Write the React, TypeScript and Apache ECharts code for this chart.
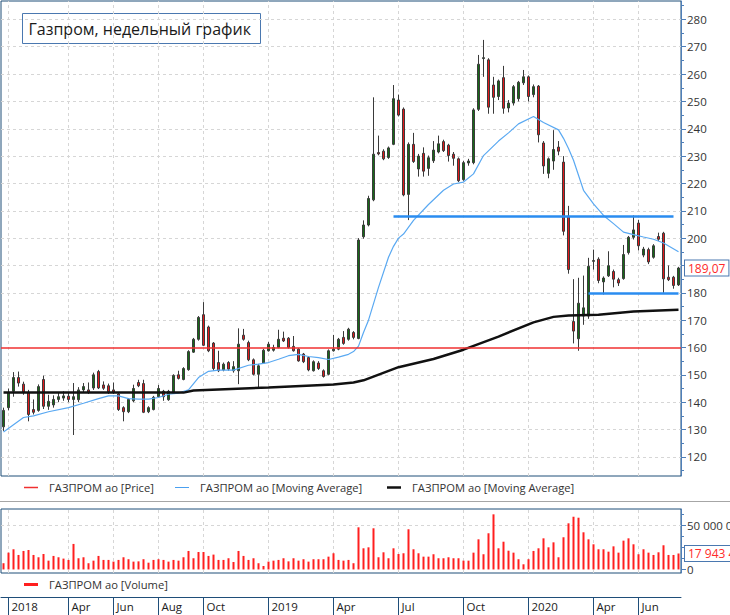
import React, { useEffect, useRef } from "react";
import * as echarts from "echarts";

// ---- categories: weekly bars ----
const categories: string[] = Array.from({ length: 136 }, (_, i) =>
  new Date(Date.UTC(2018, 0, 1) + i * 7 * 86400000).toISOString().slice(0, 10)
);

const monthTickIndex = [1, 13, 22, 31, 40, 53, 66, 79, 92, 105, 118, 127];
const monthTickLabel = ["2018", "Apr", "Jun", "Aug", "Oct", "2019", "Apr", "Jul", "Oct", "2020", "Apr", "Jun"];

const priceTicks = [120, 130, 140, 150, 160, 170, 180, 190, 200, 210, 220, 230, 240, 250, 260, 270, 280];
// 190 is hidden behind the last-price box in the reference
const priceLabelTicks = [120, 130, 140, 150, 160, 170, 180, 200, 210, 220, 230, 240, 250, 260, 270, 280];
const priceMinorTicks = [115, 125, 135, 145, 155, 165, 175, 185, 195, 205, 215, 225, 235, 245, 255, 265, 275, 285];
const priceGridLines = [120, 130, 140, 150, 170, 180, 190, 200, 210, 220, 230, 240, 250, 260, 270, 280];
const redLevel = 160;
const volumeTicks = [0, 50000000];
const volumeMinorTicks = [12500000, 25000000, 37500000, 62500000];

// ---- OHLC ----
const opens = [
  131.0, 138.0, 144.0, 149.0, 146.6, 143.5, 137.3, 137.0, 148.3, 138.5,
  139.0, 141.0, 141.5, 142.2, 141.0, 140.9, 144.5, 144.5, 145.2, 151.2,
  146.3, 146.0, 144.5, 143.0, 138.0, 136.5, 140.5, 147.2, 146.8, 136.5,
  137.3, 142.0, 144.0, 140.9, 143.3, 150.0, 148.3, 151.9, 158.3, 163.0,
  172.0, 167.5, 161.6, 154.5, 151.8, 154.5, 151.5, 151.5, 164.5, 161.8,
  155.5, 150.2, 154.3, 158.8, 159.0, 160.0, 163.4, 163.4, 160.4, 159.4,
  157.6, 156.3, 151.5, 154.3, 151.5, 150.2, 158.8, 159.4, 163.7, 163.0,
  165.5, 163.3, 200.5, 204.8, 214.0, 231.3, 231.8, 229.5, 234.3, 250.5,
  247.2, 216.0, 234.3, 225.3, 231.0, 225.5, 228.3, 231.5, 235.3, 234.0,
  230.7, 229.0, 221.4, 227.5, 227.6, 247.1, 265.7, 265.2, 256.0, 251.8,
  258.7, 247.6, 249.4, 251.0, 256.8, 259.0, 252.5, 255.6, 234.8, 223.7,
  228.2, 233.3, 227.8, 208.0, 169.5, 163.2, 171.5, 171.5, 191.5, 192.3,
  184.0, 186.2, 187.8, 184.8, 185.2, 194.7, 200.3, 205.5, 193.8, 195.8,
  193.0, 200.6, 201.8, 185.7, 185.7, 182.9
];
const closes = [
  137.0, 143.5, 149.0, 147.0, 143.6, 135.5, 136.3, 145.7, 138.5, 140.3,
  141.0, 142.0, 142.3, 141.0, 142.0, 144.5, 145.7, 143.6, 150.0, 145.2,
  145.1, 143.8, 143.5, 137.3, 136.5, 141.0, 145.0, 146.0, 136.3, 138.0,
  141.8, 145.0, 142.0, 144.0, 149.8, 148.7, 152.3, 158.5, 163.0, 171.0,
  160.8, 158.8, 152.3, 151.5, 153.9, 152.1, 153.0, 161.2, 163.0, 155.5,
  150.2, 153.3, 159.0, 161.2, 160.0, 163.0, 162.4, 160.0, 158.8, 155.1,
  154.8, 151.8, 154.8, 152.3, 149.4, 158.8, 159.4, 163.0, 161.5, 166.7,
  163.7, 199.3, 204.8, 214.5, 230.7, 230.8, 229.0, 233.0, 251.0, 245.0,
  215.8, 234.3, 228.0, 230.0, 224.5, 229.4, 232.2, 234.5, 232.0, 230.2,
  229.2, 221.0, 227.6, 228.2, 246.9, 263.6, 266.0, 247.9, 251.5, 257.5,
  247.5, 249.4, 255.4, 257.0, 259.0, 251.8, 255.4, 237.8, 226.4, 229.0,
  232.4, 231.8, 202.5, 188.5, 166.0, 176.2, 174.5, 189.7, 191.8, 184.5,
  185.4, 189.9, 185.0, 183.6, 194.0, 200.3, 203.0, 197.2, 196.0, 191.3,
  197.2, 199.6, 185.1, 184.8, 182.7, 189.07
];
const highs = [
  138.0, 145.0, 151.0, 151.2, 147.5, 144.5, 141.0, 146.5, 149.7, 142.7,
  142.5, 143.6, 144.0, 143.5, 147.0, 145.5, 147.0, 147.2, 150.8, 151.8,
  147.6, 146.8, 147.2, 143.6, 138.5, 141.5, 146.4, 148.2, 148.2, 138.5,
  142.3, 146.3, 144.5, 144.5, 150.2, 151.5, 152.8, 159.0, 163.5, 171.5,
  176.6, 168.0, 162.0, 158.8, 154.5, 155.0, 155.0, 167.0, 166.8, 162.5,
  156.0, 154.0, 159.5, 162.0, 161.0, 166.5, 165.8, 163.8, 164.2, 159.8,
  158.0, 156.8, 155.3, 155.0, 152.0, 159.3, 164.6, 163.5, 166.0, 167.2,
  166.0, 200.0, 206.5, 215.5, 251.5, 237.5, 232.5, 233.5, 256.0, 252.5,
  247.8, 235.0, 238.5, 230.8, 233.2, 230.2, 235.5, 237.5, 236.0, 234.5,
  231.5, 229.5, 228.3, 229.0, 247.5, 267.0, 272.5, 265.8, 259.0, 258.0,
  263.0, 250.5, 256.0, 257.5, 261.5, 259.5, 256.2, 256.0, 235.5, 229.5,
  239.5, 235.5, 230.0, 211.8, 185.0, 185.5, 186.3, 192.8, 195.8, 193.0,
  186.0, 195.2, 188.5, 185.5, 197.5, 200.8, 208.3, 206.7, 196.8, 196.5,
  197.8, 202.0, 202.3, 190.0, 186.2, 189.5
];
const lows = [
  129.5, 137.0, 142.0, 145.7, 142.7, 133.0, 135.5, 136.5, 137.5, 137.2,
  138.0, 140.0, 140.5, 140.0, 128.0, 140.0, 143.5, 143.0, 144.5, 144.8,
  144.5, 143.0, 143.0, 136.8, 133.0, 136.0, 140.0, 145.5, 136.0, 136.0,
  137.0, 141.7, 140.5, 140.5, 143.0, 148.3, 148.0, 151.5, 158.0, 162.5,
  160.5, 158.3, 151.5, 151.0, 151.3, 151.5, 150.8, 146.6, 162.5, 155.0,
  149.8, 145.4, 154.0, 158.5, 158.5, 159.7, 162.0, 159.6, 158.5, 154.8,
  154.3, 151.3, 151.2, 151.8, 149.0, 149.8, 158.5, 159.0, 161.0, 162.5,
  163.0, 163.0, 199.8, 204.3, 213.5, 230.3, 228.5, 229.0, 234.0, 244.5,
  215.3, 206.6, 227.5, 222.5, 222.5, 222.8, 227.5, 231.0, 231.5, 228.0,
  226.5, 220.5, 221.0, 226.5, 227.0, 246.5, 259.0, 245.5, 245.5, 250.5,
  245.5, 246.0, 248.5, 250.0, 256.0, 250.0, 251.5, 235.0, 223.5, 221.9,
  225.0, 230.3, 201.0, 187.0, 161.5, 158.8, 168.3, 170.5, 188.5, 183.5,
  179.4, 185.8, 182.0, 182.5, 184.8, 194.0, 199.5, 195.5, 193.0, 190.5,
  192.5, 199.0, 180.0, 184.3, 181.5, 182.5
];

// ---- volume (millions of shares) ----
const volumesMln = [
  7.0, 18.9, 22.7, 16.3, 20.8, 21.9, 16.3, 13.7, 17.4, 9.9,
  15.2, 13.7, 12.2, 10.7, 28.7, 12.6, 13.7, 7.0, 9.9, 15.2,
  10.7, 10.7, 8.8, 10.7, 13.7, 11.5, 8.8, 9.1, 11.5, 7.6,
  10.7, 11.5, 10.7, 8.8, 10.7, 9.9, 13.7, 20.8, 12.6, 19.6,
  19.6, 15.2, 16.7, 10.7, 10.7, 12.6, 8.4, 20.8, 15.2, 10.7,
  12.6, 7.0, 3.9, 8.8, 9.9, 10.7, 12.6, 9.1, 12.6, 9.9,
  11.5, 8.8, 11.5, 11.5, 11.5, 14.4, 18.2, 10.7, 9.9, 10.7,
  7.0, 47.4, 23.8, 24.9, 46.3, 13.7, 19.3, 12.6, 23.8, 17.4,
  18.2, 45.2, 22.7, 18.2, 14.4, 14.4, 17.1, 12.6, 12.6, 13.7,
  12.6, 12.6, 9.9, 9.9, 18.9, 33.9, 17.1, 40.7, 62.0, 23.8,
  31.2, 21.1, 18.9, 11.5, 5.8, 11.5, 20.8, 23.8, 35.0, 24.9,
  30.5, 13.7, 36.2, 51.9, 59.3, 58.2, 41.8, 33.9, 28.3, 22.7,
  22.7, 20.0, 26.0, 18.9, 32.4, 35.0, 28.3, 17.1, 22.7, 18.9,
  16.3, 19.3, 27.2, 16.3, 16.3, 17.9434
];

// ---- moving averages: [week index, value] ----
const maFast: [number, number][] = [
  [0, 129.1], [4, 134.4], [6, 135.0], [9, 136.5], [13, 138.0], [16, 139.6], [19, 141.3],
  [21, 142.3], [23, 142.3], [25, 141.3], [27, 141.1], [29, 141.1], [31, 141.7], [33, 142.9],
  [35, 143.3], [37, 144.5], [39, 149.0], [41, 151.3], [43, 151.7], [46, 151.7], [49, 153.5],
  [51, 153.9], [53, 154.5], [55, 155.7], [57, 157.0], [59, 157.5], [61, 156.7], [63, 156.3],
  [65, 155.6], [67, 156.5], [69, 157.5], [70, 158.5], [71, 160.5], [72, 165.5], [73, 170.0],
  [75, 182.0], [77, 193.0], [78, 197.0], [79, 200.0], [80, 201.5], [82, 206.5], [85, 212.3],
  [88, 217.5], [90, 219.8], [92, 220.5], [94, 223.5], [96, 230.2], [99, 235.5], [101, 238.5],
  [103, 241.8], [106, 244.5], [108, 242.3], [111, 239.6], [112, 236.5], [113, 232.8],
  [114, 228.5], [116, 217.5], [118, 212.5], [120, 208.3], [122, 205.3], [124, 202.2],
  [126, 201.3], [128, 200.4], [130, 199.6], [132, 198.2], [135, 195.0]
];
const maSlow: [number, number][] = [
  [0, 143.5], [36, 143.5], [38, 144.3], [53, 145.4], [66, 146.5], [70, 147.2], [72, 148.0],
  [79, 152.8], [86, 155.8], [92, 159.2], [99, 164.0], [106, 169.2], [110, 171.2], [113, 171.7],
  [119, 172.0], [126, 173.2], [135, 173.8]
];

const resistanceLevel = 208;
const resistanceFrom = 78;
const resistanceTo = 134;
const supportLevel = 180;
const supportFrom = 117;
const supportTo = 135;

const FONT = "'Open Sans', 'Noto Sans', 'DejaVu Sans', sans-serif";
const legendNames: Record<string, string> = {
  price: "ГАЗПРОМ ао [Price]",
  maFast: "ГАЗПРОМ ао [Moving Average]",
  maSlow: "ГАЗПРОМ ао [Moving Average]",
  volume: "ГАЗПРОМ ао [Volume]",
};

const spaced = (v: number) => String(Math.round(v)).replace(/\B(?=(\d{3})+(?!\d))/g, " ");

const FRAME = "#1f4e79";
const AXIS = "#4f7fb8";
const GRIDLINE = "#d6d6d6";
const RED_LINE = "#f03030";
const Y_MIN = 113;
const Y_MAX = 286.73;

export default function App() {
  const ref = useRef<HTMLDivElement>(null);
  useEffect(() => {
    if (!ref.current) return;
    const chart = echarts.init(ref.current, undefined, { renderer: "svg" });
    const candles = opens.map((o, i) => [o, closes[i], lows[i], highs[i]]);
    const volumes = volumesMln.map((v) => Math.round(v * 1e6));
    const lastClose = closes[closes.length - 1];
    const lastVol = volumes[volumes.length - 1];
    const isMonth = (i: number) => monthTickIndex.indexOf(i) >= 0;

    const legendBase: any = {
      orient: "horizontal",
      selectedMode: false,
      itemWidth: 14,
      padding: 0,
      icon: "rect",
      textStyle: { color: "#333", fontSize: 11.2, fontFamily: FONT, padding: [0, 0, 0, 6] },
      formatter: (n: string) => legendNames[n],
    };

    const boxLabel = (text: string) => ({
      show: true, position: "end", distance: 4,
      formatter: () => text,
      color: "#ff2a2a", fontSize: 12, fontFamily: FONT,
      backgroundColor: "#fff", borderColor: "#4a78b0", borderWidth: 1, padding: [2, 3, 1, 3],
    });

    const option: any = {
      animation: false,
      backgroundColor: "#fff",
      textStyle: { fontFamily: FONT },
      grid: [
        { left: 1, top: 1, width: 680, height: 475, show: true, borderColor: FRAME, borderWidth: 1, backgroundColor: "transparent" },
        { left: 1, top: 509, width: 680, height: 64, show: true, borderColor: FRAME, borderWidth: 1, backgroundColor: "transparent" },
        { left: 1, top: 597, width: 680, height: 18, show: false },
      ],
      xAxis: [
        { type: "category", gridIndex: 0, data: categories, boundaryGap: true, axisLine: { show: false, onZero: false }, axisTick: { show: false }, axisLabel: { show: false }, splitLine: { show: false } },
        { type: "category", gridIndex: 1, data: categories, boundaryGap: true, axisLine: { show: false, onZero: false }, axisTick: { show: false }, axisLabel: { show: false }, splitLine: { show: false } },
        {
          type: "category", gridIndex: 2, data: categories, boundaryGap: true, position: "top",
          axisLine: { show: true, onZero: false, lineStyle: { color: FRAME, width: 1 } },
          axisTick: { show: true, inside: true, length: 18, alignWithLabel: true, interval: (i: number) => isMonth(i), lineStyle: { color: FRAME, width: 1 } },
          axisLabel: {
            show: true, inside: true, interval: (i: number) => isMonth(i),
            formatter: (_v: string, i: number) => monthTickLabel[monthTickIndex.indexOf(i)] || "",
            align: "left", verticalAlign: "top", margin: 3, padding: [0, 0, 0, 3],
            color: "#222", fontSize: 11.5, fontFamily: FONT,
          },
          splitLine: { show: false },
        },
      ],
      yAxis: [
        {
          type: "value", gridIndex: 0, position: "right", min: Y_MIN, max: Y_MAX, scale: true,
          axisLine: { show: true, lineStyle: { color: AXIS, width: 1 } },
          axisTick: { show: true, length: 5, customValues: priceTicks, lineStyle: { color: AXIS } },
          axisLabel: { show: true, customValues: priceLabelTicks, color: "#333", fontSize: 11.5, fontFamily: FONT, margin: 6 },
          splitLine: { show: false },
        },
        {
          type: "value", gridIndex: 0, position: "right", min: Y_MIN, max: Y_MAX, scale: true,
          axisLine: { show: false },
          axisTick: { show: true, length: 3, customValues: priceMinorTicks, lineStyle: { color: AXIS } },
          axisLabel: { show: false },
          splitLine: { show: false },
        },
        {
          type: "value", gridIndex: 1, position: "right", min: -4000000, max: 68000000,
          axisLine: { show: true, lineStyle: { color: AXIS, width: 1 } },
          axisTick: { show: true, length: 5, customValues: volumeTicks, lineStyle: { color: AXIS } },
          axisLabel: { show: true, customValues: volumeTicks, formatter: (v: number) => spaced(v), color: "#333", fontSize: 11.5, fontFamily: FONT, margin: 6 },
          splitLine: { show: false },
        },
        {
          type: "value", gridIndex: 1, position: "right", min: -4000000, max: 68000000,
          axisLine: { show: false },
          axisTick: { show: true, length: 3, customValues: volumeMinorTicks, lineStyle: { color: AXIS } },
          axisLabel: { show: false },
          splitLine: { show: false },
        },
        { type: "value", gridIndex: 2, show: false },
      ],
      legend: [
        { ...legendBase, left: 24, top: 482, itemHeight: 1.5, data: [{ name: "price", itemStyle: { color: RED_LINE } }] },
        { ...legendBase, left: 175, top: 482, itemHeight: 1, data: ["maFast"] },
        { ...legendBase, left: 387, top: 482, itemHeight: 2.5, data: ["maSlow"] },
        { ...legendBase, left: 24, top: 579, itemHeight: 3, data: ["volume"] },
      ],
      graphic: [
        { type: "line", silent: true, shape: { x1: 0, y1: 501.5, x2: 730, y2: 501.5 }, style: { stroke: "#a6a6a6", lineWidth: 1 }, z: 10 },
        {
          type: "group", left: 22, top: 13, z: 20,
          children: [
            { type: "rect", shape: { x: 0, y: 0, width: 238, height: 30 }, style: { fill: "#fff", stroke: "#4a78b0", lineWidth: 1 } },
            { type: "text", x: 6, y: 15, style: { text: "Газпром, недельный график", fill: "#1a1a1a", font: `16px ${FONT}`, verticalAlign: "middle" } },
          ],
        },
      ],
      series: [
        {
          name: "grid-main", type: "line", xAxisIndex: 0, yAxisIndex: 0, data: closes,
          symbol: "none", silent: true, itemStyle: { color: GRIDLINE }, lineStyle: { color: GRIDLINE, width: 0 }, z: 1,
          markLine: {
            silent: true, symbol: ["none", "none"], z: 1, label: { show: false },
            lineStyle: { color: GRIDLINE, type: [3, 3], width: 1 },
            data: [
              ...monthTickIndex.map((i) => ({ xAxis: i })),
              ...priceGridLines.map((v) => ({ yAxis: v })),
            ],
          },
        },
        {
          name: "candles", type: "candlestick", xAxisIndex: 0, yAxisIndex: 0, data: candles, barWidth: 3, z: 2,
          itemStyle: { color: "#176b17", color0: "#e3191b", borderColor: "#3a3a3a", borderColor0: "#3a3a3a", borderWidth: 1 },
          markLine: {
            silent: true, symbol: ["none", "none"], z: 5, label: { show: false },
            lineStyle: { color: "#2a8cf0", width: 2.5, type: "solid" },
            data: [
              [{ coord: [resistanceFrom, resistanceLevel] }, { coord: [resistanceTo, resistanceLevel] }],
              [{ coord: [supportFrom, supportLevel] }, { coord: [supportTo, supportLevel] }],
            ],
          },
        },
        {
          name: "price", type: "line", xAxisIndex: 0, yAxisIndex: 0, data: closes,
          symbol: "none", silent: true, color: RED_LINE,
          itemStyle: { color: RED_LINE }, lineStyle: { color: RED_LINE, width: 0 }, z: 10,
          markLine: {
            silent: true, symbol: ["none", "none"], z: 10, label: { show: false },
            lineStyle: { color: RED_LINE, width: 1.6, type: "solid", opacity: 1 },
            data: [[{ xAxis: 0, yAxis: redLevel, x: 1 }, { xAxis: 135, yAxis: redLevel, x: 681 }]],
          },
        },
        {
          name: "last-price", type: "line", xAxisIndex: 0, yAxisIndex: 0, data: [],
          symbol: "none", silent: true,
          markLine: {
            silent: true, symbol: ["none", "none"], z: 6,
            lineStyle: { color: "rgba(0,0,0,0)", width: 0 },
            label: boxLabel(lastClose.toFixed(2).replace(".", ",")),
            data: [{ yAxis: lastClose }],
          },
        },
        {
          name: "maFast", type: "line", xAxisIndex: 0, yAxisIndex: 0, data: maFast, symbol: "none", showSymbol: false,
          itemStyle: { color: "#4aa0f0" }, lineStyle: { color: "#5aa9f2", width: 1.2 }, z: 3, silent: true,
        },
        {
          name: "maSlow", type: "line", xAxisIndex: 0, yAxisIndex: 0, data: maSlow, symbol: "none", showSymbol: false,
          itemStyle: { color: "#111" }, lineStyle: { color: "#111", width: 2.5 }, z: 3, silent: true,
        },
        {
          name: "volume", type: "bar", xAxisIndex: 1, yAxisIndex: 2, data: volumes, barWidth: 2, z: 2,
          itemStyle: { color: "#ff1f1f" }, silent: true,
          markLine: {
            silent: true, symbol: ["none", "none"], z: 1, label: { show: false },
            lineStyle: { color: GRIDLINE, type: [3, 3], width: 1 },
            data: [
              ...monthTickIndex.map((i) => ({ xAxis: i })),
              { yAxis: volumeTicks[1] },
            ],
          },
        },
        {
          name: "last-volume", type: "line", xAxisIndex: 1, yAxisIndex: 2, data: [],
          symbol: "none", silent: true,
          markLine: {
            silent: true, symbol: ["none", "none"], z: 6,
            lineStyle: { color: "rgba(0,0,0,0)", width: 0 },
            label: boxLabel(spaced(lastVol)),
            data: [{ yAxis: lastVol }],
          },
        },
      ],
    };
    chart.setOption(option);
    return () => chart.dispose();
  }, []);
  return (
    <div style={{ position: "absolute", left: 0, top: 0, width: 730, height: 615, overflow: "hidden" }}>
      <div ref={ref} style={{ width: 780, height: 615 }} />
    </div>
  );
}
